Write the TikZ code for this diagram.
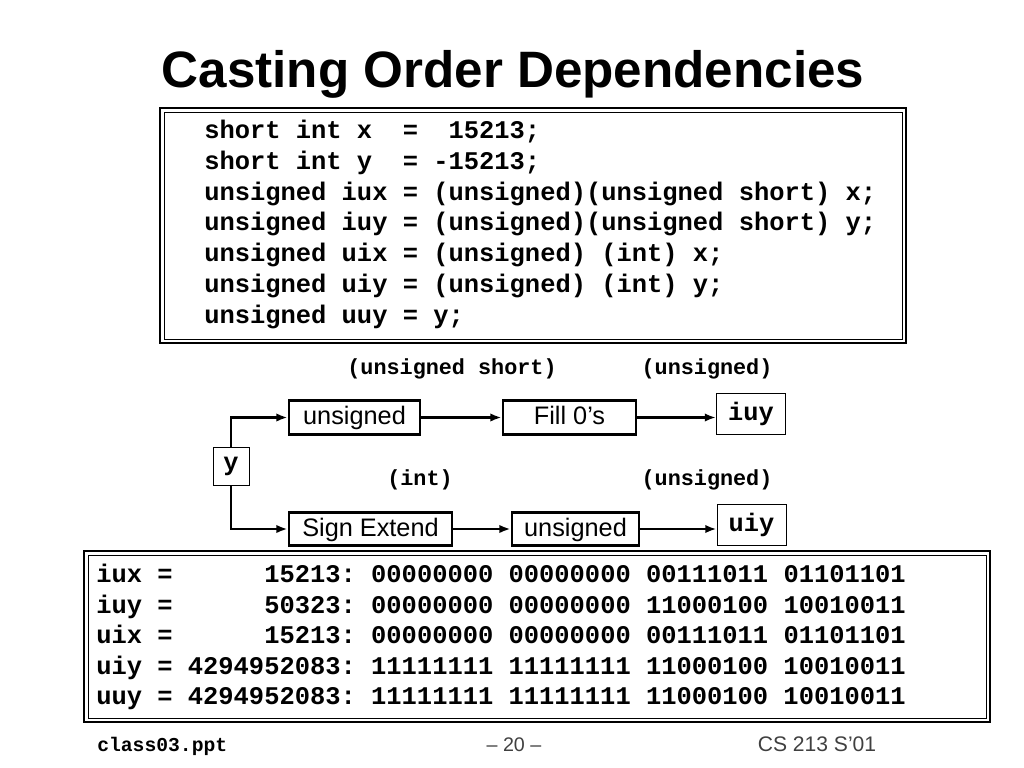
\documentclass[tikz,border=0pt]{standalone}
\usepackage{fontspec}
\setmainfont{Liberation Sans}
\setmonofont{Liberation Mono}
\usetikzlibrary{positioning,calc,arrows.meta}

\tikzset{
  code/.style={font=\ttfamily\bfseries\fontsize{18.1pt}{20pt}\selectfont, inner sep=0pt, anchor=base west},
  cast/.style={font=\ttfamily\bfseries\fontsize{15.5pt}{17pt}\selectfont, inner sep=0pt},
  opbox/.style={draw, line width=2pt, font=\fontsize{18pt}{20pt}\selectfont, inner sep=0pt, minimum height=0.83cm, text height=13pt, text depth=3pt},
  varbox/.style={draw, line width=0.7pt, font=\ttfamily\bfseries\fontsize{18pt}{20pt}\selectfont, inner sep=0pt},
  link/.style={->, line width=1.7pt},
  outerframe/.style={line width=1.6pt},
  innerframe/.style={line width=0.7pt},
}

\begin{document}
\begin{tikzpicture}[x=0.025cm, y=-0.025cm, >={Latex[length=8pt,width=6pt]}]
  \useasboundingbox (0,0) rectangle (1024,768);

  \node [font=\bfseries\fontsize{36.4pt}{40pt}\selectfont, anchor=base] (title) at (513,88) {Casting Order Dependencies};

  % declarations
  \draw[outerframe] (160,108) rectangle (906,343);
  \draw[innerframe] (164,112) rectangle (902,339);
  \foreach \txt [count=\i] in {
      {short int x~~=~~15213;},
      {short int y~~= -15213;},
      {unsigned iux = (unsigned)(unsigned short) x;},
      {unsigned iuy = (unsigned)(unsigned short) y;},
      {unsigned uix = (unsigned) (int) x;},
      {unsigned uiy = (unsigned) (int) y;},
      {unsigned uuy = y;}}
    \node[code] (decl\i) at (204, 107.7+\i*30.8) {\txt};

  % casting paths
  \node[varbox, minimum width=0.9cm, minimum height=0.95cm] (yvar) at (231,466) {y};

  \node[opbox, minimum width=3.275cm] (ushort) at (354.5,417.5) {unsigned};
  \node[opbox, minimum width=3.325cm] (fill) at (569.5,417.5) {Fill 0’s};
  \node[varbox, minimum width=1.725cm, minimum height=1.025cm] (iuy) at (751,413.5) {iuy};

  \node[opbox, minimum width=4.075cm] (sext) at (370.5,529) {Sign Extend};
  \node[opbox, minimum width=3.175cm] (uint) at (575.5,529) {unsigned};
  \node[varbox, minimum width=1.725cm, minimum height=1.025cm] (uiy) at (751.5,524.5) {uiy};

  \node[cast] (c1) at (452,369) {(unsigned short)};
  \node[cast] (c2) at (707,369) {(unsigned)};
  \node[cast] (c3) at (420,480) {(int)};
  \node[cast] (c4) at (707,480) {(unsigned)};

  \draw[link] (yvar.north) |- (ushort.west);
  \draw[link] (ushort) -- (fill);
  \draw[link] (fill.east) -- (fill.east -| iuy.west);
  \draw[link] (yvar.south) |- (sext.west);
  \draw[link] (sext) -- (uint);
  \draw[link] (uint.east) -- (uint.east -| uiy.west);

  % results
  \draw[outerframe] (84,551) rectangle (990,722);
  \draw[innerframe] (88,555) rectangle (986,718);
  \foreach \txt [count=\i] in {
      {iux =~~~~~~15213: 00000000 00000000 00111011 01101101},
      {iuy =~~~~~~50323: 00000000 00000000 11000100 10010011},
      {uix =~~~~~~15213: 00000000 00000000 00111011 01101101},
      {uiy = 4294952083: 11111111 11111111 11000100 10010011},
      {uuy = 4294952083: 11111111 11111111 11000100 10010011}}
    \node[code] (res\i) at (96, 552+\i*30.5) {\txt};

  % footer
  \node[font=\ttfamily\bfseries\fontsize{14pt}{16pt}\selectfont, anchor=base west, inner sep=0pt] (file) at (97,751) {class03.ppt};
  \node[font=\fontsize{14pt}{16pt}\selectfont, text=black!75, anchor=base, inner sep=0pt] (page) at (514,751) {-- 20 --};
  \node[font=\fontsize{15pt}{17pt}\selectfont, text=black!75, anchor=base, inner sep=0pt] (course) at (817,751) {CS 213 S’01};
\end{tikzpicture}
\end{document}
